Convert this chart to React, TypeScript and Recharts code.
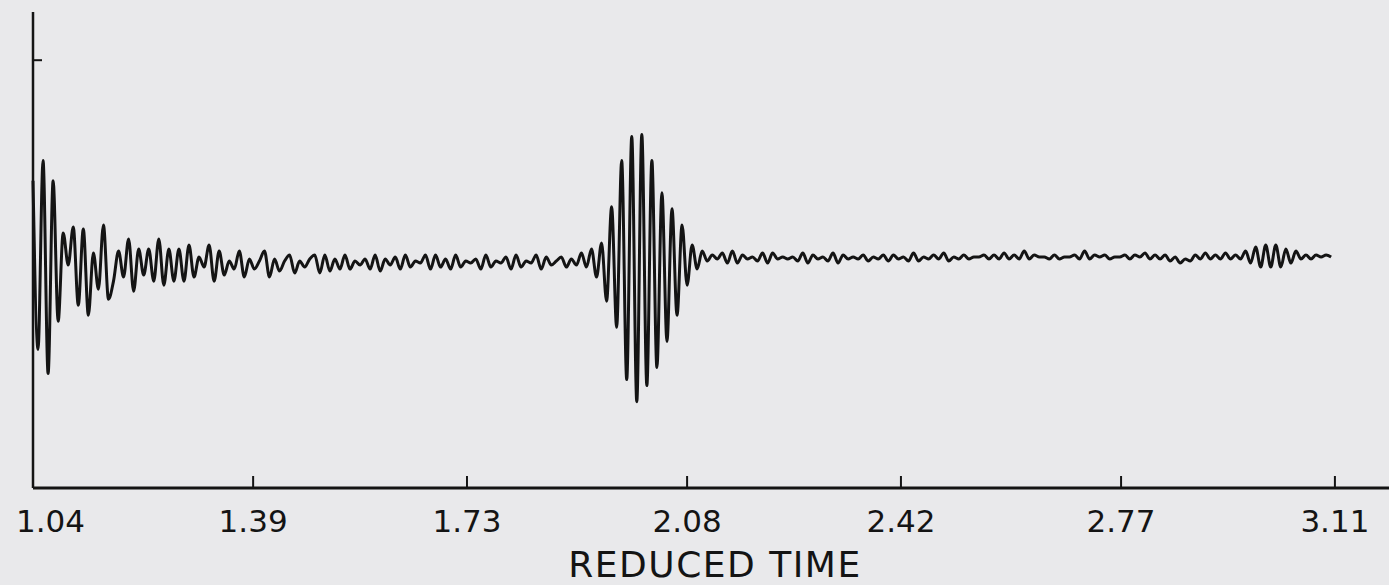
import React from 'react';
import { LineChart, Line, XAxis, YAxis, Label } from 'recharts';

// reduced time axis
const START_TIME = 1.04;
const SAMPLE_STEP = 0.008;
const TIME_TICKS = [1.04, 1.39, 1.73, 2.08, 2.42, 2.77, 3.11];
const AMP_TICKS = [100];

// trace amplitude, one value per sample
const codaAmp = [
  40, -44, 50, -56, 40, -30, 14, -2, 17, -22, 16, -27, 4, -14, 18, -19,
  -10, 5, -8, 11, -15, 6, -7, 6, -10, 11, -12, 6, -10, 6, -10, 8, -8, 2,
  -3, 8, -10, 5, -7, 0, -4, 5, -8, 1, -4, 0, 5, -8, 1, -5, 0, 3, -6, 0,
  -3, 1, 3, -6, 3, -5,
];
const preBurstNoise = [
  1, -4, 3, -4, 0, -2, 1, -4, 3, -5, 1, -2, 2, -4, 3, -3, 0, -1, 3, -4,
  3, -3, 1, -4, 3, -3, 0, -1, 1, -4, 3, -3, 0, -1, 2, -4, 3, -3, 0, -1,
  3, -4, 2, -2, 0, 2, -3, 1, -2, 4,
];
const burstAmp = [
  -3, 6, -8, 9, -20, 27, -33, 50, -59, 62, -70, 63, -62, 50, -53, 34,
  -40, 26, -27, 18, -12, 8,
];
const postBurstNoise = [
  -4, 5, 0, 3, 1, 4, -1, 5, -1, 3, 1, 2, 0, 4, -1, 4, 1, 2, 1, 2, 0, 4,
  -1, 3, 1, 2, 0, 4, -1, 3, 1, 2, 1, 3, 0, 2, 1, 3, 0, 3, 1, 2, 0, 4, 0,
  2, 1, 3, 1, 4, 0, 2, 1, 3, 1, 2, 2, 3, 1, 3, 1, 4, 1, 3, 1, 5, 1, 3, 2,
  2, 1, 3, 1, 2, 2, 3, 1, 5, 1, 3, 2, 3, 1, 2, 2, 3, 1, 3, 2, 4, 1, 3, 1,
  3, 0, 2, -1, 1, 0, 3, 1, 4, 1, 3, 1, 4, 1, 3,
];
const lateBurstAmp = [1, 5, -1, 7, -3, 8, -3, 8, -3, 6, -1, 5, 1];
const tailAmp = [3, 1, 3, 2, 3, 2];

const trace = [
  ...codaAmp,
  ...preBurstNoise,
  ...burstAmp,
  ...postBurstNoise,
  ...lateBurstAmp,
  ...tailAmp,
].map((amp, i) => ({ t: START_TIME + i * SAMPLE_STEP, amp }));

const INK = '#141414';

function TimeTick(props: any) {
  const { x, y, payload, index } = props;
  const first = index === 0;
  return (
    <g>
      <line x1={x} x2={x} y1={y} y2={y - 12} stroke={INK} strokeWidth={2} />
      <text
        x={first ? x - 17 : x}
        y={y + 44}
        textAnchor={first ? 'start' : 'middle'}
        fill={INK}
        fontSize={31}
        fontFamily='DejaVu Sans'
      >
        {payload.value.toFixed(2)}
      </text>
    </g>
  );
}

function AmpTick(props: any) {
  const { x, y } = props;
  return <line x1={x} x2={x + 9} y1={y} y2={y} stroke={INK} strokeWidth={2} />;
}

export default function App() {
  return (
    <div style={{ width: 1389, height: 585, background: '#e9e9eb' }}>
      <style>{'body{margin:0;background:#e9e9eb}'}</style>
      <LineChart
        width={1389}
        height={585}
        data={trace}
        margin={{ top: 12, right: 0, bottom: 0, left: 0 }}
      >
        <XAxis
          dataKey='t'
          type='number'
          domain={[1.04, 3.196]}
          ticks={TIME_TICKS}
          interval={0}
          height={97}
          tickSize={0}
          tickMargin={0}
          tickLine={false}
          axisLine={{ stroke: INK, strokeWidth: 3 }}
          tick={(p: any) => <TimeTick {...p} />}
        >
          <Label
            content={(p: any) => {
              const vb = p.viewBox;
              return (
                <text
                  x={vb.x + vb.width / 2 + 4}
                  y={577}
                  textAnchor='middle'
                  fill={INK}
                  fontSize={36}
                  letterSpacing={1.5}
                  fontFamily='DejaVu Sans'
                >
                  REDUCED TIME
                </text>
              );
            }}
          />
        </XAxis>
        <YAxis
          type='number'
          domain={[-113, 124]}
          ticks={AMP_TICKS}
          width={33}
          tickSize={0}
          tickMargin={0}
          tickLine={false}
          axisLine={{ stroke: INK, strokeWidth: 2.5 }}
          tick={(p: any) => <AmpTick {...p} />}
        />
        <Line
          type='monotone'
          dataKey='amp'
          stroke={INK}
          strokeWidth={3}
          strokeLinejoin='round'
          dot={false}
          isAnimationActive={false}
        />
      </LineChart>
    </div>
  );
}
